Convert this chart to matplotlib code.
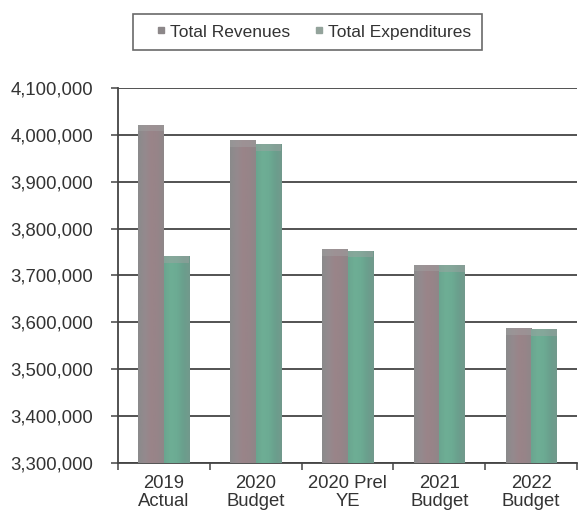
import numpy as np
import matplotlib
matplotlib.use("Agg")
import matplotlib.pyplot as plt
from matplotlib.colors import LinearSegmentedColormap
from matplotlib.lines import Line2D
from matplotlib.patches import Rectangle
from matplotlib.ticker import FuncFormatter, FixedLocator

categories = ["2019\nActual", "2020\nBudget", "2020 Prel\nYE", "2021\nBudget", "2022\nBudget"]
revenues = [4022000, 3988000, 3756000, 3723000, 3587000]
expenditures = [3741000, 3981000, 3753000, 3722000, 3586000]
series_names = ["Total Revenues", "Total Expenditures"]

y_min, y_max, y_step = 3300000, 4100000, 100000

plt.rcParams["font.family"] = ["Liberation Sans", "DejaVu Sans"]
text_color = "#333333"
line_color = "#444444"

fig = plt.figure(figsize=(5.8, 5.15), dpi=100)
ax = fig.add_axes([118 / 580, 1 - 463 / 515, 459 / 580, 375 / 515])

x = np.arange(len(categories))
w = 0.277

# cylinder-like horizontal shading for each series
rev_cmap = LinearSegmentedColormap.from_list(
    "rev", ["#8a8a8b", "#948a8e", "#9a8489", "#978488", "#8e8789"])
exp_cmap = LinearSegmentedColormap.from_list(
    "exp", ["#6aa58f", "#6eae95", "#6cab93", "#6a9f8d", "#72998c"])
grad = np.linspace(0, 1, 64).reshape(1, -1)

def shade(bars, cmap):
    for b in bars:
        x0, y0 = b.get_x(), b.get_y()
        bw, bh = b.get_width(), b.get_height()
        im = ax.imshow(grad, cmap=cmap, aspect="auto", zorder=3,
                       extent=(x0, x0 + bw, y0, y0 + bh), interpolation="bicubic")
        im.set_clip_path(b)
        # lighter top cap
        cap_h = 0.018 * (y_max - y_min)
        ax.add_patch(Rectangle((x0, y0 + bh - cap_h), bw, cap_h,
                               facecolor="#a3a3a3", alpha=0.45, lw=0, zorder=4))

bars_r = ax.bar(x - w / 2, np.array(revenues) - y_min, w, bottom=y_min,
                color="#948a8e", lw=0, zorder=2)
bars_e = ax.bar(x + w / 2, np.array(expenditures) - y_min, w, bottom=y_min,
                color="#6cab93", lw=0, zorder=2)
shade(bars_r, rev_cmap)
shade(bars_e, exp_cmap)

ax.set_xlim(-0.5, len(categories) - 0.5)
ax.set_ylim(y_min, y_max)

# y axis
ax.yaxis.set_major_locator(FixedLocator(np.arange(y_min, y_max + 1, y_step)))
ax.yaxis.set_major_formatter(FuncFormatter(lambda v, p: f"{int(v):,}"))
ax.grid(axis="y", color=line_color, lw=1.3, zorder=1)
ax.set_axisbelow(True)
ax.tick_params(axis="y", direction="out", length=5, width=1.1, color=line_color,
               labelsize=13.3, labelcolor=text_color, pad=13)

# x axis: ticks between categories, labels at centres
ax.xaxis.set_major_locator(FixedLocator(np.arange(-0.5, len(categories))))
ax.xaxis.set_major_formatter(FuncFormatter(lambda v, p: ""))
ax.set_xticks(x, minor=True)
ax.set_xticklabels(categories, minor=True)
ax.tick_params(axis="x", which="major", direction="out", length=5, width=1.1,
               color=line_color)
ax.tick_params(axis="x", which="minor", length=0, labelsize=13.3,
               labelcolor=text_color, pad=9)
for lbl in ax.get_xticklabels(minor=True):
    lbl.set_linespacing(1.05)

for s in ["top", "right"]:
    ax.spines[s].set_visible(False)
for s in ["left", "bottom"]:
    ax.spines[s].set_color(line_color)
    ax.spines[s].set_linewidth(1.3)

handles = [
    Line2D([], [], marker="s", ls="none", markersize=5, color="#8c8789"),
    Line2D([], [], marker="s", ls="none", markersize=5, color="#93a39b"),
]
leg = fig.legend(handles, series_names, loc="center",
                 bbox_to_anchor=(307.5 / 580, 1 - 32 / 515), ncol=2,
                 fontsize=12.5, frameon=True, fancybox=False, handlelength=2.0,
                 handletextpad=-0.5, columnspacing=0.7, borderpad=0.6,
                 labelcolor=text_color)
leg.get_frame().set_edgecolor("#444444")
leg.get_frame().set_linewidth(1.2)

fig.savefig("out.png", dpi=100)
